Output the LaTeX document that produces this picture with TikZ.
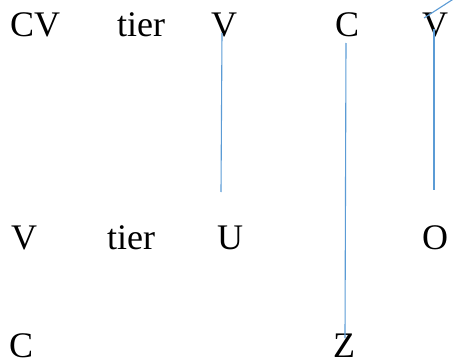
\documentclass[tikz,border=0pt]{standalone}
\usepackage{fontspec}
\setmainfont{Liberation Serif}
\begin{document}
\begin{tikzpicture}[x=1pt,y=-1pt,
  lbl/.style={anchor=base west,inner sep=0pt,font=\fontsize{36}{40}\selectfont},
  link/.style={draw={rgb,255:red,91;green,155;blue,213},line width=1.1pt}]
\useasboundingbox (0,0) rectangle (453,364);
% row 1
\node[lbl] (cv) at (10,36) {CV};
\node[lbl] (t1) at (117,36) {tier};
\node[lbl] (v1) at (211,36) {V};
\node[lbl] (c1) at (335,36) {C};
\node[lbl] (v2) at (422,36) {V};
% row 2
\node[lbl] (v) at (11,249) {V};
\node[lbl] (t2) at (107,249) {tier};
\node[lbl] (u) at (217,249) {U};
\node[lbl] (o) at (422,249) {O};
% row 3
\node[lbl] (c) at (9,357) {C};
\node[lbl] (z) at (333,357) {Z};
% connectors
\coordinate (a1) at (222,33);
\coordinate (a2) at (221,192);
\coordinate (b1) at (346,43);
\coordinate (b2) at (345,338);
\coordinate (d1) at (434,29);
\coordinate (d2) at (434,190);
\coordinate (e1) at (424,18);
\coordinate (e2) at (455,-2);
\draw[link] (a1) -- (a2);
\draw[link] (b1) -- (b2);
\draw[link] (d1) -- (d2);
\draw[link] (e1) -- (e2);
\end{tikzpicture}
\end{document}
